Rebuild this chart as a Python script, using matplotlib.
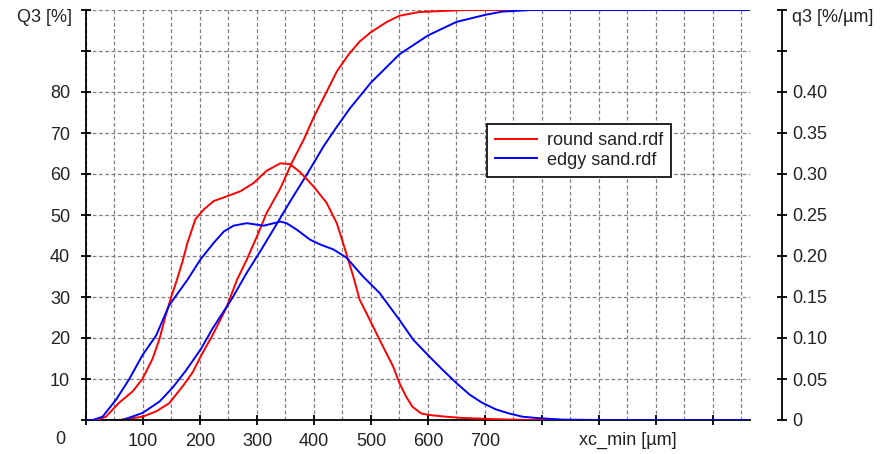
import matplotlib.pyplot as plt
from matplotlib.ticker import MultipleLocator, FixedLocator, FixedFormatter

plt.rcParams['font.family'] = ['Liberation Sans', 'DejaVu Sans']

# -----------------------------
# DATA
# -----------------------------
# cumulative distribution Q3 [%]
round_Q3_x = [0, 58, 99, 123, 146, 170, 187, 202, 222, 246, 265, 282, 300, 317, 341, 362, 382,
              400, 422, 440, 460, 480, 500, 528, 550, 584, 631, 666, 1165]
round_Q3_y = [0, 0, 0.8, 2.1, 4.1, 8.3, 11.6, 15.7, 20.7, 27.3, 34.2, 39.1, 44.8, 50.5, 56.5, 63, 68.4,
              74, 80, 85, 89, 92.3, 94.6, 97.1, 98.6, 99.5, 99.8, 100, 100]

edgy_Q3_x = [0, 64, 99, 129, 152, 175, 202, 222, 257, 282, 306, 329, 359, 388, 417, 440, 463, 500,
             550, 600, 650, 700, 730, 781, 1165]
edgy_Q3_y = [0, 0, 1.7, 4.5, 7.9, 12, 17.4, 22.3, 29.8, 35.9, 41.2, 46.5, 53.5, 60, 66.8, 71.5, 76, 82.3,
             89.2, 93.8, 97.1, 98.8, 99.6, 100, 100]

# density distribution q3 [%/um]
round_q3_x = [0, 18, 35, 58, 82, 99, 117, 129, 140, 149, 160, 170, 178, 192, 207, 224, 248, 271, 294,
              317, 341, 358, 376, 399, 422, 440, 451, 469, 480, 498, 515, 539, 550, 562, 573, 588, 603,
              632, 660, 718, 777, 1165]
round_q3_y = [0, 0, 0.004, 0.021, 0.035, 0.050, 0.075, 0.099, 0.128, 0.149, 0.172, 0.195, 0.216, 0.245,
              0.257, 0.267, 0.273, 0.279, 0.289, 0.304, 0.313, 0.312, 0.302, 0.285, 0.265, 0.240, 0.216,
              0.175, 0.147, 0.122, 0.098, 0.065, 0.045, 0.028, 0.016, 0.008, 0.006, 0.004, 0.0025, 0.001,
              0, 0]

edgy_q3_x = [0, 12, 29, 53, 76, 99, 123, 146, 178, 201, 224, 242, 259, 282, 312, 341, 352, 370,
             393, 411, 434, 457, 486, 515, 550, 574, 603, 626, 650, 673, 695, 719, 742, 766, 789,
             835, 900, 1165]
edgy_q3_y = [0, 0, 0.004, 0.025, 0.050, 0.079, 0.103, 0.140, 0.171, 0.196, 0.216, 0.230, 0.237, 0.240,
             0.237, 0.242, 0.240, 0.232, 0.220, 0.214, 0.208, 0.198, 0.175, 0.155, 0.122, 0.098, 0.077,
             0.061, 0.045, 0.031, 0.021, 0.013, 0.008, 0.004, 0.0025, 0.0005, 0, 0]

x_tick_labels = ["", "100", "200", "300", "400", "500", "600", "700", "", "", "", ""]
left_tick_labels = ["", "10", "20", "30", "40", "50", "60", "70", "80", "", ""]
right_tick_labels = ["0", "0.05", "0.10", "0.15", "0.20", "0.25", "0.30", "0.35", "0.40", "", ""]

# -----------------------------
# FIGURE
# -----------------------------
fig = plt.figure(figsize=(8.82, 4.54), dpi=100)
ax = fig.add_axes([86 / 882, 1 - 420 / 454, 664 / 882, 410 / 454])
ax2 = ax.twinx()

ax.plot(round_Q3_x, round_Q3_y, color="red", lw=1.4, label="round sand.rdf")
ax.plot(edgy_Q3_x, edgy_Q3_y, color="blue", lw=1.4, label="edgy sand.rdf")
ax2.plot(round_q3_x, round_q3_y, color="red", lw=1.4)
ax2.plot(edgy_q3_x, edgy_q3_y, color="blue", lw=1.4)

ax.set_xlim(0, 1165)
ax.set_ylim(0, 100)
ax2.set_ylim(0, 0.5)

txt = "#222222"
fs = 13

# grid
ax.xaxis.set_major_locator(FixedLocator(list(range(0, 1200, 100))))
ax.xaxis.set_major_formatter(FixedFormatter(x_tick_labels))
ax.xaxis.set_minor_locator(MultipleLocator(50))
ax.yaxis.set_major_locator(FixedLocator(list(range(0, 110, 10))))
ax.yaxis.set_major_formatter(FixedFormatter(left_tick_labels))
ax.grid(True, which="both", color="#808080", ls=(0, (3, 2)), lw=0.9)
ax.set_axisbelow(True)

ax.tick_params(axis="both", which="major", direction="inout", length=7, width=1.3,
               labelsize=fs, color="black", labelcolor=txt)
ax.tick_params(axis="x", which="minor", length=0)
ax.tick_params(axis="x", pad=6)
ax.tick_params(axis="y", pad=8)

ax2.yaxis.set_major_locator(FixedLocator([i * 0.05 for i in range(11)]))
ax2.yaxis.set_major_formatter(FixedFormatter(right_tick_labels))
ax2.tick_params(axis="y", direction="inout", length=7, width=1.3, labelsize=fs, pad=4,
                labelcolor=txt)

for s in ["top", "right"]:
    ax.spines[s].set_visible(False)
for s in ["top", "left", "bottom"]:
    ax2.spines[s].set_visible(False)
ax.spines["left"].set_linewidth(1.3)
ax.spines["bottom"].set_linewidth(1.3)
ax2.spines["right"].set_linewidth(1.3)
ax2.spines["right"].set_position(("outward", 23))

# axis titles as placed in the original
fig.text(72 / 882, 1 - 18 / 454, "Q3 [%]", ha="right", va="center", fontsize=fs, color=txt)
fig.text(792 / 882, 1 - 18 / 454, "q3 [%/µm]", ha="left", va="center", fontsize=fs, color=txt)
fig.text(60 / 882, 1 - 440 / 454, "0", ha="center", va="center", fontsize=fs, color=txt)
fig.text(628 / 882, 1 - 440 / 454, "xc_min [µm]", ha="center", va="center", fontsize=fs, color=txt)

leg = ax.legend(loc="upper left", bbox_to_anchor=(0.604, 0.722), borderaxespad=0,
                fancybox=False, edgecolor="black", framealpha=1, fontsize=fs,
                handlelength=2.3, handletextpad=0.55, labelspacing=0.15, borderpad=0.45,
                labelcolor=txt)
leg.get_frame().set_linewidth(1.2)

fig.savefig("out.png", dpi=100)
